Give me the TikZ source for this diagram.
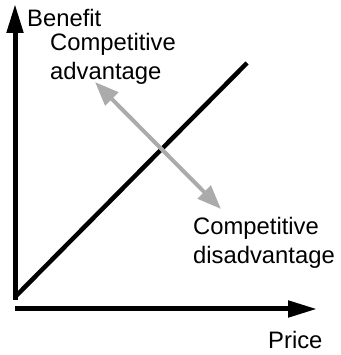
\documentclass[tikz,border=0pt]{standalone}
\usepackage{fontspec}
\setmainfont{Liberation Sans}
\usetikzlibrary{positioning}
\usetikzlibrary{calc,arrows.meta}

\begin{document}
\begin{tikzpicture}
	[   x=1pt,y=1pt,
	    lbl/.style={inner sep=0pt,align=left,font=\fontsize{23.8}{28.5}\selectfont},
	]
	\tikzset{axis arrow/.style={draw,line width=5pt,-{Triangle[length=29pt,width=16pt]}}}
	\tikzset{gray arrow/.style={draw=black!33,line width=4pt,{Triangle[length=24pt,width=18pt]}-{Triangle[length=24pt,width=18pt]}}}
	\useasboundingbox (0,0) rectangle (340,355);

	\coordinate (o) at (15,55);
	\coordinate (y-top) at (15,351);
	\coordinate (x-0) at (15,46);
	\coordinate (x-end) at (317,46);
	\coordinate (d-0) at (15,58);
	\coordinate (d-1) at (247,292);
	\coordinate (g-1) at (95,273);
	\coordinate (g-2) at (221,146);

	\node[lbl,anchor=west] (benefit) at (27,337) {Benefit};
	\node[lbl,anchor=west] (adv) at (50,296) {Competitive\\advantage};
	\node[lbl,anchor=west] (disadv) at (193,112) {Competitive\\disadvantage};
	\node[lbl,anchor=west] (price) at (268,15) {Price};

	\path[axis arrow] (o) -- (y-top);
	\path[axis arrow] (x-0) -- (x-end);
	\draw[line width=4.5pt] (d-0) -- (d-1);
	\path[gray arrow] (g-1) -- (g-2);

\end{tikzpicture}
\end{document}
